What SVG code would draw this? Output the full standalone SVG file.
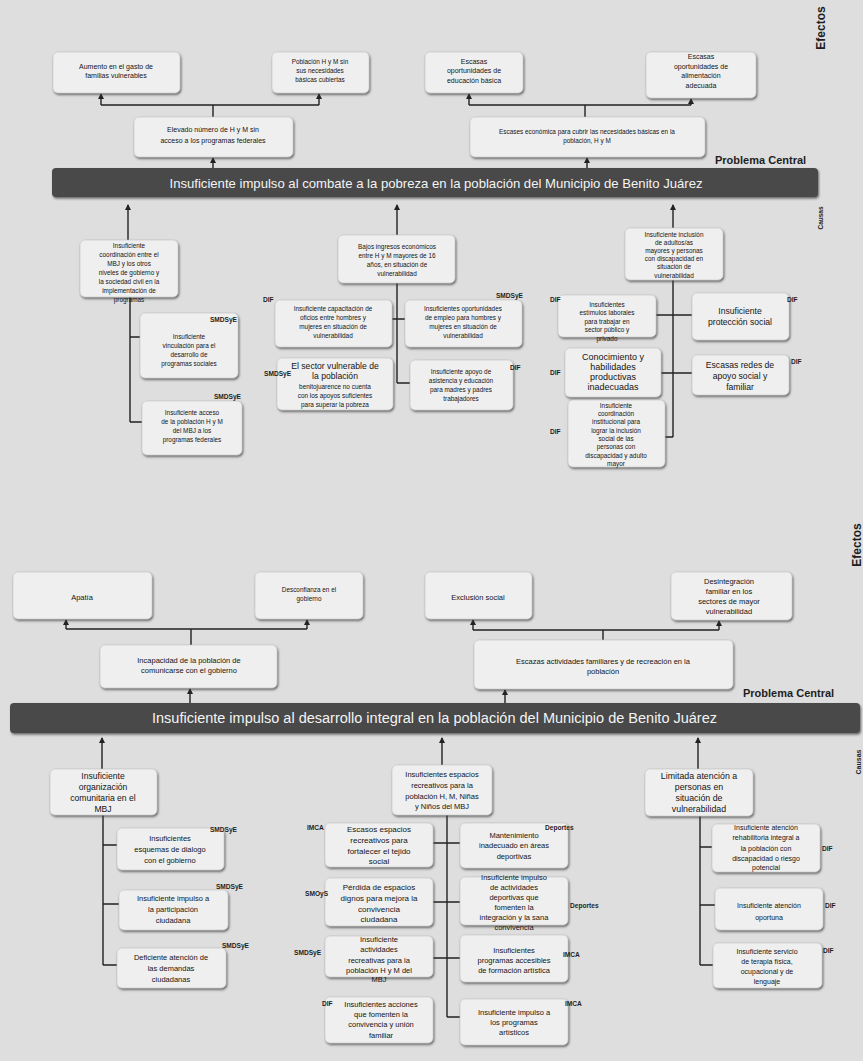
<svg xmlns="http://www.w3.org/2000/svg" width="863" height="1061" viewBox="0 0 863 1061">
<defs>
<filter id="sh" x="-10%" y="-10%" width="125%" height="135%">
<feDropShadow dx="1" dy="1.6" stdDeviation="0.8" flood-color="#3a3a3a" flood-opacity="0.75"/>
</filter>
<marker id="ah" markerWidth="6" markerHeight="6" refX="5" refY="3" orient="auto" markerUnits="userSpaceOnUse">
<path d="M0,0 L6,3 L0,6 z" fill="#222"/>
</marker>
<style>
.bx{fill:#efefef;stroke:#c4c4c4;stroke-width:0.6;filter:url(#sh)}
.t{font-family:"Liberation Sans",Arial,sans-serif;fill:#141414;text-anchor:middle}
.s7{font-size:7px}.s65{font-size:6.4px}.s75{font-size:7.5px}.s8{font-size:8px}.s85{font-size:8.6px}
.lb{font-family:"Liberation Sans",Arial,sans-serif;font-weight:bold;font-size:6.6px;fill:#1e1e1e}
.c{stroke:#222;stroke-width:1.4;fill:none}
.a{marker-end:url(#ah)}
.bar{fill:#4a4a4a;filter:url(#sh)}
.bt{font-family:"Liberation Sans",Arial,sans-serif;fill:#f4f4f4;text-anchor:middle}
.hd{font-family:"Liberation Sans",Arial,sans-serif;font-weight:bold;fill:#1e1e1e}
</style>
</defs>
<rect x="0" y="0" width="863" height="1061" fill="#dedede"/>

<!-- ============ TOP DIAGRAM ============ -->
<text class="hd" font-size="12" text-anchor="middle" transform="translate(825,28) rotate(-90)">Efectos</text>
<text class="hd" font-size="6.5" text-anchor="middle" transform="translate(823,218) rotate(-90)">Causas</text>
<text class="hd" font-size="11" x="715" y="164">Problema Central</text>

<g id="connectors-top">
<path class="c" d="M213,117 V105 M101,105 H319 M585,117 V105 M469,105 H691"/>
<path class="c a" d="M101,105 V94"/>
<path class="c a" d="M319,105 V94"/>
<path class="c a" d="M469,105 V94"/>
<path class="c a" d="M691,105 V99"/>
<path class="c a" d="M213,168 V158"/>
<path class="c a" d="M587,168 V158"/>
<path class="c a" d="M128,240 V205"/>
<path class="c a" d="M397,235 V205"/>
<path class="c a" d="M673,228 V205"/>
<path class="c" d="M130,297 V422 M130,337 H142 M130,422 H142"/>
<path class="c" d="M397,283 V383 M392,319 H405 M397,383 H410"/>
<path class="c" d="M673,280 V437 M656,315 H692 M661,373 H692 M673,437 H665"/>
</g>

<g id="e1"><rect class="bx" x="53" y="52" width="127" height="41" rx="5"/>
<text class="t s7"><tspan x="116" y="69">Aumento en el gasto de</tspan><tspan x="116" y="78">familias vulnerables</tspan></text></g>
<g id="e2"><rect class="bx" x="272" y="52" width="97" height="41" rx="5"/>
<text class="t s65"><tspan x="320" y="64">Población H y M sin</tspan><tspan x="320" y="73">sus necesidades</tspan><tspan x="320" y="82">básicas cubiertas</tspan></text></g>
<g id="e3"><rect class="bx" x="425" y="52" width="98" height="41" rx="5"/>
<text class="t s7"><tspan x="474" y="64">Escasas</tspan><tspan x="474" y="73">oportunidades de</tspan><tspan x="474" y="83">educación básica</tspan></text></g>
<g id="e4"><rect class="bx" x="646" y="52" width="110" height="46" rx="5"/>
<text class="t s7"><tspan x="701" y="59">Escasas</tspan><tspan x="701" y="69">oportunidades de</tspan><tspan x="701" y="78">alimentación</tspan><tspan x="701" y="88">adecuada</tspan></text></g>

<g id="c1"><rect class="bx" x="134" y="117" width="159" height="40" rx="5"/>
<text class="t s7"><tspan x="213" y="132">Elevado número de H y M sin</tspan><tspan x="213" y="143">acceso a los programas federales</tspan></text></g>
<g id="c2"><rect class="bx" x="470" y="117" width="235" height="40" rx="5"/>
<text class="t s65"><tspan x="587" y="134">Escases económica para cubrir las necesidades básicas en la</tspan><tspan x="587" y="143">población, H y M</tspan></text></g>

<g id="central-top"><rect class="bar" x="52" y="168" width="766" height="29" rx="4"/>
<text class="bt" font-size="13" x="436" y="188" textLength="533" lengthAdjust="spacingAndGlyphs">Insuficiente impulso al combate a la pobreza en la población del Municipio de Benito Juárez</text></g>

<g id="l0"><rect class="bx" x="80" y="240" width="98" height="57" rx="5"/>
<text class="t s65"><tspan x="129" y="248">Insuficiente</tspan><tspan x="129" y="257">coordinación entre el</tspan><tspan x="129" y="266">MBJ y los otros</tspan><tspan x="129" y="275">niveles de gobierno y</tspan><tspan x="129" y="284">la sociedad civil en la</tspan><tspan x="129" y="293">implementación de</tspan><tspan x="129" y="302">programas</tspan></text></g>
<g id="l1"><rect class="bx" x="140" y="313" width="98" height="65" rx="5"/>
<text class="lb" x="237" y="322" text-anchor="end">SMDSyE</text>
<text class="t s65"><tspan x="189" y="339">Insuficiente</tspan><tspan x="189" y="348">vinculación para el</tspan><tspan x="189" y="357">desarrollo de</tspan><tspan x="189" y="366">programas sociales</tspan></text></g>
<g id="l2"><rect class="bx" x="142" y="401" width="100" height="54" rx="5"/>
<text class="lb" x="241" y="399" text-anchor="end">SMDSyE</text>
<text class="t s65"><tspan x="192" y="415">Insuficiente acceso</tspan><tspan x="192" y="424">de la población H y M</tspan><tspan x="192" y="433">del MBJ a los</tspan><tspan x="192" y="442">programas federales</tspan></text></g>

<g id="m0"><rect class="bx" x="338" y="235" width="117" height="48" rx="5"/>
<text class="t s65"><tspan x="397" y="249">Bajos ingresos económicos</tspan><tspan x="397" y="258">entre H y M mayores de 16</tspan><tspan x="397" y="267">años, en situación de</tspan><tspan x="397" y="276">vulnerabilidad</tspan></text></g>
<g id="m1"><rect class="bx" x="275" y="300" width="117" height="47" rx="5"/>
<text class="lb" x="263" y="302">DIF</text>
<text class="t s65"><tspan x="333" y="311">Insuficiente capacitación de</tspan><tspan x="333" y="320">oficios entre hombres y</tspan><tspan x="333" y="329">mujeres en situación de</tspan><tspan x="333" y="338">vulnerabilidad</tspan></text></g>
<g id="m2"><rect class="bx" x="405" y="300" width="117" height="47" rx="5"/>
<text class="lb" x="523" y="298" text-anchor="end">SMDSyE</text>
<text class="t s65"><tspan x="463" y="311">Insuficientes oportunidades</tspan><tspan x="463" y="320">de empleo para hombres y</tspan><tspan x="463" y="329">mujeres en situación de</tspan><tspan x="463" y="338">vulnerabilidad</tspan></text></g>
<g id="m3"><rect class="bx" x="277" y="358" width="116" height="52" rx="5"/>
<text class="t"><tspan class="s85" x="335" y="369">El sector vulnerable de</tspan><tspan class="s85" x="335" y="379">la población</tspan><tspan class="s65" x="335" y="389">benitojuarence no cuenta</tspan><tspan class="s65" x="335" y="398">con los apoyos suficientes</tspan><tspan class="s65" x="335" y="407">para superar la pobreza</tspan></text>
<text class="lb" x="264" y="376">SMDSyE</text></g>
<g id="m4"><rect class="bx" x="410" y="360" width="103" height="50" rx="5"/>
<text class="lb" x="510" y="370">DIF</text>
<text class="t s65"><tspan x="461" y="374">Insuficiente apoyo de</tspan><tspan x="461" y="383">asistencia y educación</tspan><tspan x="461" y="392">para madres y padres</tspan><tspan x="461" y="401">trabajadores</tspan></text></g>

<g id="r0"><rect class="bx" x="625" y="228" width="98" height="52" rx="5"/>
<text class="t s65"><tspan x="674" y="237">Insuficiente inclusión</tspan><tspan x="674" y="245">de adultos/as</tspan><tspan x="674" y="253">mayores y personas</tspan><tspan x="674" y="261">con discapacidad en</tspan><tspan x="674" y="269">situación de</tspan><tspan x="674" y="278">vulnerabilidad</tspan></text></g>
<g id="r1"><rect class="bx" x="558" y="295" width="98" height="42" rx="5"/>
<text class="lb" x="550" y="302">DIF</text>
<text class="t s65"><tspan x="607" y="307">Insuficientes</tspan><tspan x="607" y="315">estímulos laborales</tspan><tspan x="607" y="324">para trabajar en</tspan><tspan x="607" y="332">sector público y</tspan><tspan x="607" y="341">privado</tspan></text></g>
<g id="r2"><rect class="bx" x="692" y="293" width="97" height="47" rx="5"/>
<text class="lb" x="787" y="302">DIF</text>
<text class="t s85"><tspan x="740" y="314">Insuficiente</tspan><tspan x="740" y="325">protección social</tspan></text></g>
<g id="r3"><rect class="bx" x="565" y="348" width="96" height="49" rx="5"/>
<text class="lb" x="550" y="375">DIF</text>
<text class="t" font-size="9"><tspan x="613" y="360">Conocimiento y</tspan><tspan x="613" y="370">habilidades</tspan><tspan x="613" y="380">productivas</tspan><tspan x="613" y="390">inadecuadas</tspan></text></g>
<g id="r4"><rect class="bx" x="692" y="355" width="97" height="40" rx="5"/>
<text class="lb" x="791" y="364">DIF</text>
<text class="t s85"><tspan x="740" y="368">Escasas redes de</tspan><tspan x="740" y="379">apoyo social y</tspan><tspan x="740" y="390">familiar</tspan></text></g>
<g id="r5"><rect class="bx" x="568" y="400" width="97" height="67" rx="5"/>
<text class="lb" x="550" y="434">DIF</text>
<text class="t s65"><tspan x="616" y="408">Insuficiente</tspan><tspan x="616" y="416">coordinación</tspan><tspan x="616" y="424">institucional para</tspan><tspan x="616" y="433">lograr la inclusión</tspan><tspan x="616" y="441">social de las</tspan><tspan x="616" y="449">personas con</tspan><tspan x="616" y="458">discapacidad y adulto</tspan><tspan x="616" y="466">mayor</tspan></text></g>

<!-- ============ BOTTOM DIAGRAM ============ -->
<text class="hd" font-size="12" text-anchor="middle" transform="translate(861,545) rotate(-90)">Efectos</text>
<text class="hd" font-size="7" text-anchor="middle" transform="translate(861,762) rotate(-90)">Causas</text>
<text class="hd" font-size="11" x="743" y="697">Problema Central</text>

<g id="connectors-bottom">
<path class="c" d="M191,645 V629 M66,629 H307 M603,640 V630 M473,630 H719"/>
<path class="c a" d="M66,629 V620"/>
<path class="c a" d="M307,629 V620"/>
<path class="c a" d="M473,630 V620"/>
<path class="c a" d="M719,630 V621"/>
<path class="c a" d="M190,703 V689"/>
<path class="c a" d="M505,703 V690"/>
<path class="c a" d="M102,769 V738"/>
<path class="c a" d="M442,765 V738"/>
<path class="c a" d="M698,769 V738"/>
<path class="c" d="M103,815 V965 M103,845 H117 M103,904 H119 M103,965 H117"/>
<path class="c" d="M447,815 V1017 M433,843 H460 M433,902 H462 M433,958 H462 M447,1017 H460"/>
<path class="c" d="M700,816 V965 M700,847 H712 M700,905 H715 M700,965 H713"/>
</g>

<g id="be1"><rect class="bx" x="13" y="572" width="139" height="47" rx="5"/>
<text class="t s75" x="82" y="600">Apatía</text></g>
<g id="be2"><rect class="bx" x="255" y="572" width="108" height="47" rx="5"/>
<text class="t s65"><tspan x="309" y="592">Desconfianza en el</tspan><tspan x="309" y="601">gobierno</tspan></text></g>
<g id="be3"><rect class="bx" x="425" y="572" width="107" height="47" rx="5"/>
<text class="t s75" x="478" y="600">Exclusión social</text></g>
<g id="be4"><rect class="bx" x="671" y="572" width="121" height="48" rx="5"/>
<text class="t s75"><tspan x="729" y="584">Desintegración</tspan><tspan x="729" y="594">familiar en los</tspan><tspan x="729" y="604">sectores de mayor</tspan><tspan x="729" y="614">vulnerabilidad</tspan></text></g>

<g id="bc1"><rect class="bx" x="100" y="645" width="177" height="43" rx="5"/>
<text class="t s75"><tspan x="189" y="663">Incapacidad de la población de</tspan><tspan x="189" y="673">comunicarse con el gobierno</tspan></text></g>
<g id="bc2"><rect class="bx" x="474" y="640" width="259" height="49" rx="5"/>
<text class="t s75"><tspan x="603" y="664">Escazas actividades familiares y de recreación en la</tspan><tspan x="603" y="674">población</tspan></text></g>

<g id="central-bottom"><rect class="bar" x="10" y="703" width="850" height="30" rx="4"/>
<text class="bt" font-size="14" x="434.5" y="723" textLength="565" lengthAdjust="spacingAndGlyphs">Insuficiente impulso al desarrollo integral en la población del Municipio de Benito Juárez</text></g>

<g id="bl0"><rect class="bx" x="50" y="769" width="107" height="46" rx="5"/>
<text class="t s85"><tspan x="103" y="779">Insuficiente</tspan><tspan x="103" y="790">organización</tspan><tspan x="103" y="801">comunitaria en el</tspan><tspan x="103" y="812">MBJ</tspan></text></g>
<g id="bl1"><rect class="bx" x="117" y="828" width="107" height="42" rx="5"/>
<text class="lb" x="237" y="832" text-anchor="end">SMDSyE</text>
<text class="t s75"><tspan x="170" y="841">Insuficientes</tspan><tspan x="170" y="852">esquemas de dialogo</tspan><tspan x="170" y="863">con el gobierno</tspan></text></g>
<g id="bl2"><rect class="bx" x="119" y="890" width="109" height="40" rx="5"/>
<text class="lb" x="243" y="889" text-anchor="end">SMDSyE</text>
<text class="t s75"><tspan x="173" y="901">Insuficiente impulso a</tspan><tspan x="173" y="912">la participación</tspan><tspan x="173" y="923">ciudadana</tspan></text></g>
<g id="bl3"><rect class="bx" x="117" y="948" width="109" height="40" rx="5"/>
<text class="lb" x="249" y="948" text-anchor="end">SMDSyE</text>
<text class="t s75"><tspan x="171" y="960">Deficiente atención de</tspan><tspan x="171" y="971">las demandas</tspan><tspan x="171" y="982">ciudadanas</tspan></text></g>

<g id="bm0"><rect class="bx" x="392" y="765" width="100" height="50" rx="5"/>
<text class="t s75"><tspan x="442" y="777">Insuficientes espacios</tspan><tspan x="442" y="788">recreativos para la</tspan><tspan x="442" y="799">población H, M, Niñas</tspan><tspan x="442" y="809">y Niños del MBJ</tspan></text></g>
<g id="bml1"><rect class="bx" x="325" y="823" width="108" height="44" rx="5"/>
<text class="lb" x="307" y="830">IMCA</text>
<text class="t s8"><tspan x="379" y="832">Escasos espacios</tspan><tspan x="379" y="843">recreativos para</tspan><tspan x="379" y="854">fortalecer el tejido</tspan><tspan x="379" y="864">social</tspan></text></g>
<g id="bml2"><rect class="bx" x="325" y="878" width="108" height="48" rx="5"/>
<text class="lb" x="305" y="896">SMOyS</text>
<text class="t s8"><tspan x="379" y="890">Pérdida de espacios</tspan><tspan x="379" y="901">dignos para mejora la</tspan><tspan x="379" y="912">convivencia</tspan><tspan x="379" y="922">ciudadana</tspan></text></g>
<g id="bml3"><rect class="bx" x="325" y="936" width="108" height="41" rx="5"/>
<text class="lb" x="294" y="955">SMDSyE</text>
<text class="t s75"><tspan x="379" y="942">Insuficiente</tspan><tspan x="379" y="952">actividades</tspan><tspan x="379" y="963">recreativas para la</tspan><tspan x="379" y="973">población H y M del</tspan><tspan x="379" y="982">MBJ</tspan></text></g>
<g id="bml4"><rect class="bx" x="325" y="997" width="108" height="46" rx="5"/>
<text class="lb" x="322" y="1006">DIF</text>
<text class="t s75"><tspan x="381" y="1007">Insuficientes acciones</tspan><tspan x="381" y="1017">que fomenten la</tspan><tspan x="381" y="1027">convivencia y unión</tspan><tspan x="381" y="1038">familiar</tspan></text></g>
<g id="bmr1"><rect class="bx" x="460" y="823" width="108" height="45" rx="5"/>
<text class="lb" x="545" y="830">Deportes</text>
<text class="t s75"><tspan x="514" y="838">Mantenimiento</tspan><tspan x="514" y="848">inadecuado en áreas</tspan><tspan x="514" y="859">deportivas</tspan></text></g>
<g id="bmr2"><rect class="bx" x="460" y="877" width="108" height="48" rx="5"/>
<text class="lb" x="570" y="908">Deportes</text>
<text class="t s75"><tspan x="514" y="880">Insuficiente impulso</tspan><tspan x="514" y="890">de actividades</tspan><tspan x="514" y="900">deportivas que</tspan><tspan x="514" y="910">fomenten la</tspan><tspan x="514" y="920">integración y la sana</tspan><tspan x="514" y="930">convivencia</tspan></text></g>
<g id="bmr3"><rect class="bx" x="460" y="935" width="108" height="47" rx="5"/>
<text class="lb" x="563" y="957">IMCA</text>
<text class="t s75"><tspan x="514" y="953">Insuficientes</tspan><tspan x="514" y="963">programas accesibles</tspan><tspan x="514" y="973">de formación artística</tspan></text></g>
<g id="bmr4"><rect class="bx" x="460" y="999" width="108" height="46" rx="5"/>
<text class="lb" x="565" y="1006">IMCA</text>
<text class="t s75"><tspan x="514" y="1015">Insuficiente impulso a</tspan><tspan x="514" y="1025">los programas</tspan><tspan x="514" y="1035">artísticos</tspan></text></g>

<g id="br0"><rect class="bx" x="645" y="769" width="108" height="47" rx="5"/>
<text class="t" font-size="8.8"><tspan x="699" y="779">Limitada atención a</tspan><tspan x="699" y="790">personas en</tspan><tspan x="699" y="801">situación de</tspan><tspan x="699" y="812">vulnerabilidad</tspan></text></g>
<g id="br1"><rect class="bx" x="712" y="824" width="108" height="48" rx="5"/>
<text class="lb" x="822" y="851">DIF</text>
<text class="t s7"><tspan x="766" y="830">Insuficiente atención</tspan><tspan x="766" y="840">rehabilitoria integral a</tspan><tspan x="766" y="851">la población con</tspan><tspan x="766" y="861">discapacidad o riesgo</tspan><tspan x="766" y="870">potencial</tspan></text></g>
<g id="br2"><rect class="bx" x="715" y="888" width="108" height="42" rx="5"/>
<text class="lb" x="825" y="908">DIF</text>
<text class="t s7"><tspan x="769" y="908">Insuficiente atención</tspan><tspan x="769" y="920">oportuna</tspan></text></g>
<g id="br3"><rect class="bx" x="713" y="943" width="109" height="45" rx="5"/>
<text class="lb" x="823" y="953">DIF</text>
<text class="t s7"><tspan x="767" y="954">Insuficiente servicio</tspan><tspan x="767" y="964">de terapia física,</tspan><tspan x="767" y="974">ocupacional y de</tspan><tspan x="767" y="984">lenguaje</tspan></text></g>
</svg>
